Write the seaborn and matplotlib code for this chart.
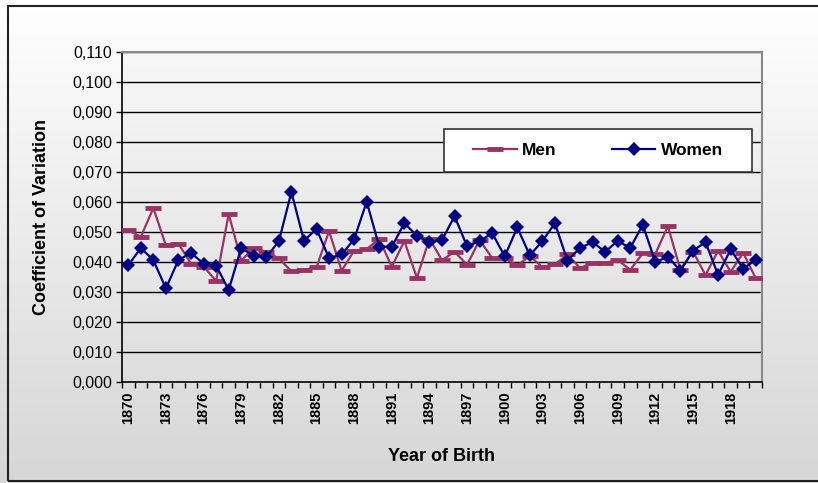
import numpy as np
import pandas as pd
import matplotlib
matplotlib.use("Agg")
import matplotlib.pyplot as plt
import seaborn as sns
from matplotlib.patches import Rectangle
from matplotlib.ticker import FuncFormatter

# data
years = list(range(1870, 1921))
men = [0.0506, 0.0484, 0.0580, 0.0455, 0.0461, 0.0394, 0.0385, 0.0337, 0.0560, 0.0405,
       0.0447, 0.0434, 0.0412, 0.0369, 0.0374, 0.0382, 0.0503, 0.0371, 0.0438, 0.0443,
       0.0477, 0.0384, 0.0470, 0.0347, 0.0478, 0.0406, 0.0434, 0.0391, 0.0473, 0.0413,
       0.0412, 0.0389, 0.0420, 0.0383, 0.0392, 0.0425, 0.0380, 0.0397, 0.0397, 0.0407,
       0.0374, 0.0429, 0.0427, 0.0519, 0.0374, 0.0435, 0.0356, 0.0438, 0.0367, 0.0431,
       0.0346]
women = [0.0389, 0.0447, 0.0406, 0.0312, 0.0407, 0.0430, 0.0395, 0.0388, 0.0307, 0.0446,
         0.0421, 0.0417, 0.0469, 0.0633, 0.0471, 0.0510, 0.0413, 0.0425, 0.0476, 0.0601,
         0.0451, 0.0451, 0.0529, 0.0488, 0.0465, 0.0473, 0.0553, 0.0452, 0.0470, 0.0496,
         0.0419, 0.0515, 0.0422, 0.0470, 0.0529, 0.0404, 0.0447, 0.0466, 0.0434, 0.0470,
         0.0447, 0.0524, 0.0400, 0.0417, 0.0371, 0.0438, 0.0466, 0.0357, 0.0442, 0.0378,
         0.0407]
tick_years = list(range(1870, 1919, 3))
y_ticks = [i / 1000 for i in range(0, 111, 10)]

df = pd.DataFrame({"year": years, "Men": men, "Women": women})

plt.rcParams["font.family"] = ["Liberation Sans", "DejaVu Sans"]

MEN_C = "#993366"
WOMEN_C = "#000080"

fig = plt.figure(figsize=(8.18, 4.83), dpi=100)

# chart area background: light vertical gradient + border
bg = fig.add_axes([0, 0, 1, 1], zorder=-10)
grad = np.linspace(1.0, 0.84, 256).reshape(-1, 1)
bg.imshow(np.dstack([grad, grad, grad]), aspect="auto", extent=[0, 1, 0, 1])
bg.set_xlim(0, 1)
bg.set_ylim(0, 1)
bg.axis("off")
bg.add_patch(Rectangle((8 / 818, 2 / 483), 1.2, 1 - 8 / 483, fill=False,
                       edgecolor="#222222", lw=1.5))

ax = fig.add_axes([122 / 818, 1 - 382 / 483, 640 / 818, 330 / 483])
ax.set_facecolor("none")

# plot area gradient
pgrad = np.linspace(0.97, 0.87, 256).reshape(-1, 1)
ax.imshow(np.dstack([pgrad, pgrad, pgrad]), aspect="auto",
          extent=[1869.5, 1920.5, 0, 0.11], zorder=0)

for v in y_ticks[1:]:
    ax.axhline(v, color="black", lw=1, zorder=1)

sns.lineplot(data=df, x="year", y="Men", ax=ax, color=MEN_C, lw=1.6,
             marker="_", markersize=12, markeredgewidth=3.5, markeredgecolor=MEN_C,
             label="Men", zorder=3)
sns.lineplot(data=df, x="year", y="Women", ax=ax, color=WOMEN_C, lw=1.6,
             marker="D", markersize=7, markeredgewidth=0, markerfacecolor=WOMEN_C,
             label="Women", zorder=4)

ax.set_xlim(1869.5, 1920.5)
ax.set_ylim(0, 0.11)

ax.set_yticks(y_ticks)
ax.yaxis.set_major_formatter(FuncFormatter(lambda v, p: f"{v:.3f}".replace(".", ",")))
ax.tick_params(axis="y", direction="out", length=4, width=1, labelsize=11.5, pad=3)

ax.set_xticks(tick_years)
ax.set_xticklabels([str(y) for y in tick_years], rotation=90, fontweight="bold")
ax.set_xticks(np.arange(1869.5, 1921, 1), minor=True)
ax.tick_params(axis="x", which="major", length=0, labelsize=10.5, pad=7)
ax.tick_params(axis="x", which="minor", direction="out", length=4, width=1)

for s in ["left", "bottom"]:
    ax.spines[s].set_color("black")
    ax.spines[s].set_linewidth(1.2)
for s in ["top", "right"]:
    ax.spines[s].set_color("#888888")
    ax.spines[s].set_linewidth(1.5)

ax.set_xlabel("Year of Birth", fontsize=13, fontweight="bold", labelpad=17)
ax.set_ylabel("Coefficient of Variation", fontsize=13, fontweight="bold", labelpad=16)

# legend box drawn above the plot area
ax.add_patch(Rectangle((444 / 818, 1 - 172 / 483), 308 / 818, 43 / 483,
                       transform=fig.transFigure, facecolor="white",
                       edgecolor="#333333", lw=1.2, zorder=20, clip_on=False))

leg = ax.legend(loc="center", ncol=2,
                bbox_to_anchor=(598 / 818, 1 - 150.5 / 483),
                bbox_transform=fig.transFigure, frameon=False,
                prop={"weight": "bold", "size": 12.5}, handlelength=2.5,
                handletextpad=0.3, columnspacing=3.2, borderaxespad=0, borderpad=0)
leg.set_zorder(30)

fig.savefig("out.png", dpi=100)
